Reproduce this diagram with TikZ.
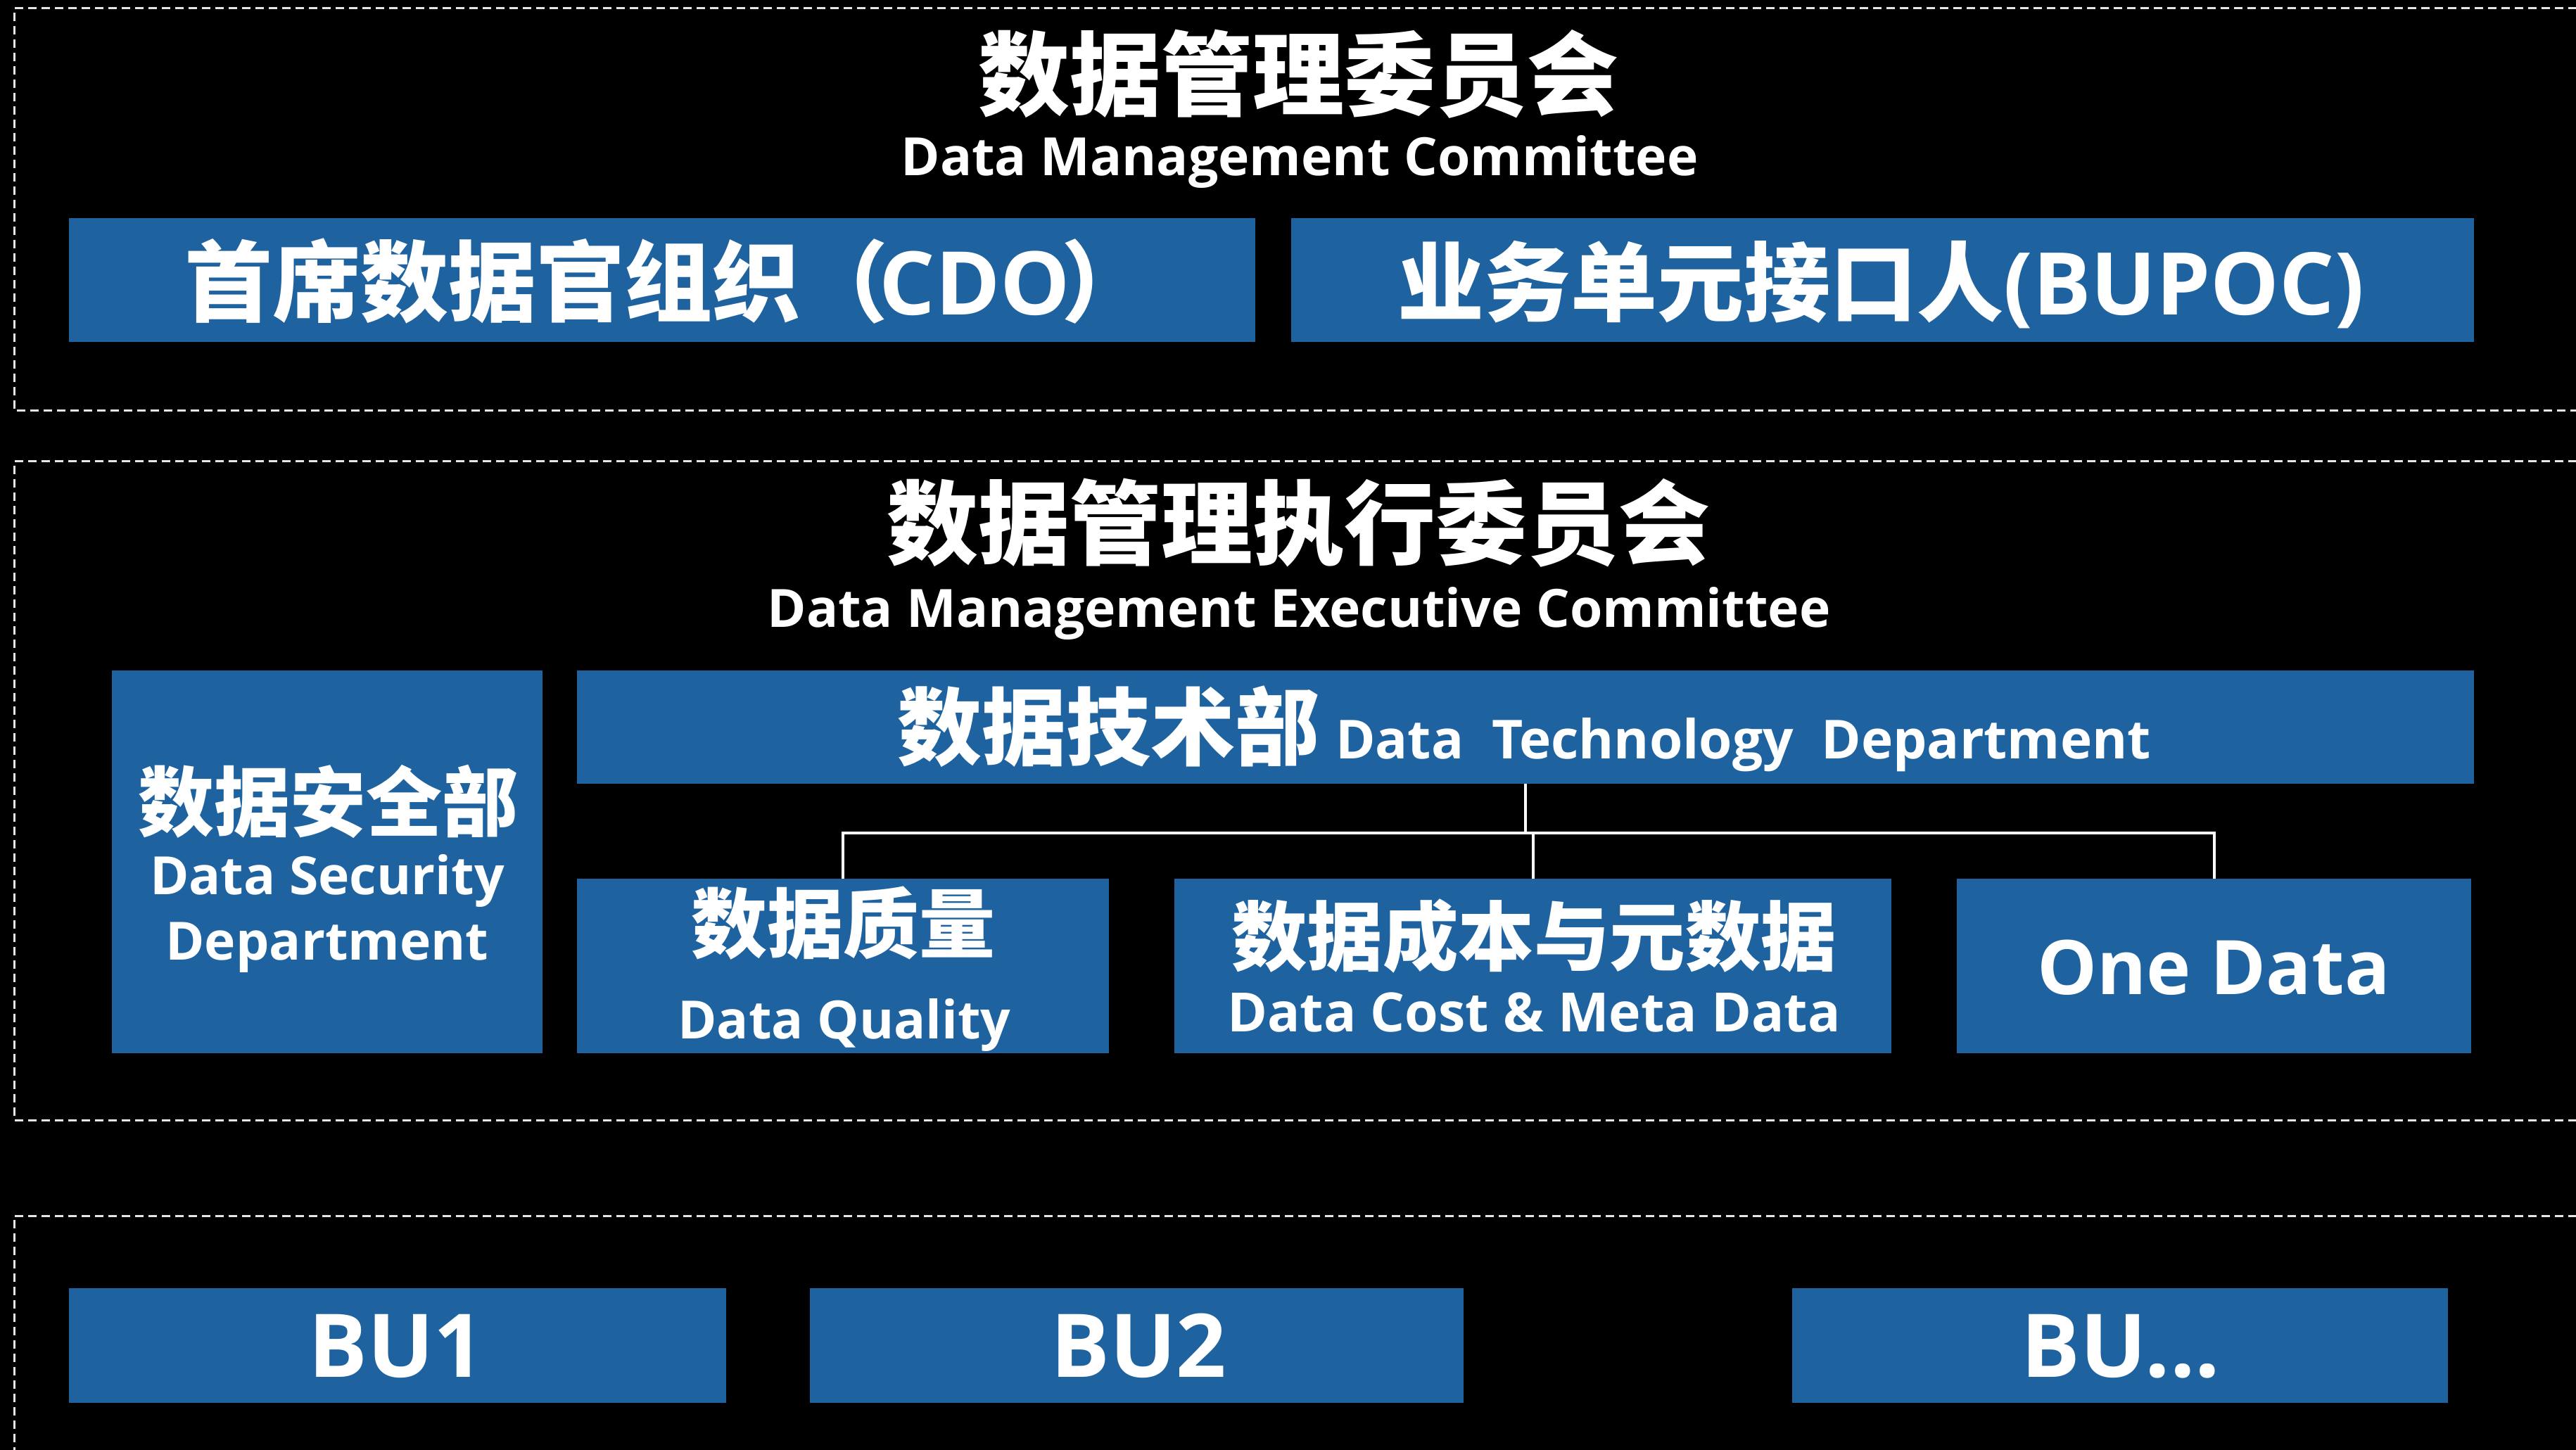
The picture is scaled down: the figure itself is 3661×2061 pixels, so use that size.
\documentclass[tikz,border=0pt]{standalone}
\usepackage{fontspec}
\setmainfont{Open Sans}
\newfontfamily\cjk{Noto Sans CJK SC}
\newcommand\zh[1]{{\cjk\bfseries #1}}
\newcommand\fsz[1]{\fontsize{#1pt}{#1pt}\selectfont}
\definecolor{boxblue}{RGB}{30,99,160}
\definecolor{framegray}{RGB}{230,230,230}
\tikzset{
  bx/.style={fill=boxblue, draw=none, inner sep=0pt, outer sep=0pt},
  txt/.style={text=white, inner sep=0pt, outer sep=0pt},
  frame/.style={draw=framegray, line width=0.6pt, dash pattern=on 2.4pt off 1.4pt},
  conn/.style={draw=white, line width=0.8pt},
}
\begin{document}
\begin{tikzpicture}[x=0.2pt,y=-0.2pt]
\fill[black] (0,0) rectangle (3661,2061);
\useasboundingbox (0,0) rectangle (3661,2061);

% dashed frames
\draw[frame] (3700,12) -- (20,12) -- (20,584) -- (3700,584);
\draw[frame] (3700,656) -- (20,656) -- (20,1592) -- (3700,1592);
\draw[frame] (3700,1728) -- (20,1728) -- (20,2100);

% level 1
\node[txt, font=\bfseries\fsz{26}] (t1) at (1845,105) {\zh{数据管理委员会}};
\node[txt, anchor=base, font=\bfseries\fsz{15}] (s1) at (1847,250) {Data Management Committee};
\node[bx, minimum width=1686*0.2pt, minimum height=176*0.2pt] (cdo) at (941,398) {};
\node[txt, anchor=base, font=\bfseries\fsz{25}] (cdot) at (948,448) {\zh{首席数据官组织（}\kern-0.1em CDO\kern-0.1em\zh{）}};
\node[bx, minimum width=1681*0.2pt, minimum height=176*0.2pt] (bupoc) at (2675.5,398) {};
\node[txt, anchor=base, font=\bfseries\fsz{24.6}] (bupoct) at (2673,448) {\zh{业务单元接口人}(BUPOC)};

% level 2
\node[txt, font=\bfseries\fsz{26}] (t2) at (1845,743) {\zh{数据管理执行委员会}};
\node[txt, anchor=base, font=\bfseries\fsz{15}] (s2) at (1846,892) {Data Management Executive Committee};

\node[bx, minimum width=612*0.2pt, minimum height=544*0.2pt] (sec) at (465,1225) {};
\node[txt, font=\bfseries\fsz{21.6}] (sec1) at (466,1139) {\zh{数据安全部}};
\node[txt, anchor=base, font=\bfseries\fsz{15}] (sec2) at (465,1271) {Data Security};
\node[txt, anchor=base, font=\bfseries\fsz{15}] (sec3) at (465,1364) {Department};

\node[bx, minimum width=2696*0.2pt, minimum height=161*0.2pt] (tech) at (2168,1033.5) {};
\node[txt, anchor=base, font=\bfseries\fsz{15.3}] (techt) at (2166,1079) {{\fsz{24}\zh{数据技术部}}\kern0.3em Data\ \ Technology\ \ Department};

\node[bx, minimum width=756*0.2pt, minimum height=248*0.2pt] (dq) at (1198,1373) {};
\node[txt, font=\bfseries\fsz{21.6}] (dq1) at (1198,1312) {\zh{数据质量}};
\node[txt, anchor=base, font=\bfseries\fsz{15}] (dq2) at (1200,1476) {Data Quality};

\node[bx, minimum width=1019*0.2pt, minimum height=248*0.2pt] (cost) at (2178.5,1373) {};
\node[txt, font=\bfseries\fsz{21.5}] (cost1) at (2180,1331) {\zh{数据成本与元数据}};
\node[txt, anchor=base, font=\bfseries\fsz{15.4}] (cost2) at (2180,1466) {Data Cost \& Meta Data};

\node[bx, minimum width=731*0.2pt, minimum height=248*0.2pt] (one) at (3146.5,1373) {};
\node[txt, anchor=base, font=\bfseries\fsz{21.4}] (onet) at (3146,1413) {One Data};

% connectors
\coordinate (busy) at (0,1184);
\draw[conn] (tech.south) -- (tech.south |- busy);
\draw[conn] (dq.north) -- (dq.north |- busy) -- (one.north |- busy) -- (one.north);
\draw[conn] (cost.north) -- (cost.north |- busy);

% level 3
\node[bx, minimum width=934*0.2pt, minimum height=163*0.2pt] (bu1) at (565,1912.5) {};
\node[txt, anchor=base, font=\bfseries\fsz{25}] (bu1t) at (563,1957) {BU1};
\node[bx, minimum width=929*0.2pt, minimum height=163*0.2pt] (bu2) at (1615.5,1912.5) {};
\node[txt, anchor=base, font=\bfseries\fsz{25}] (bu2t) at (1618,1957) {BU2};
\node[bx, minimum width=932*0.2pt, minimum height=163*0.2pt] (bun) at (3013,1912.5) {};
\node[txt, anchor=base, font=\bfseries\fsz{25}] (bunt) at (3014,1957) {BU...};
\end{tikzpicture}
\end{document}
